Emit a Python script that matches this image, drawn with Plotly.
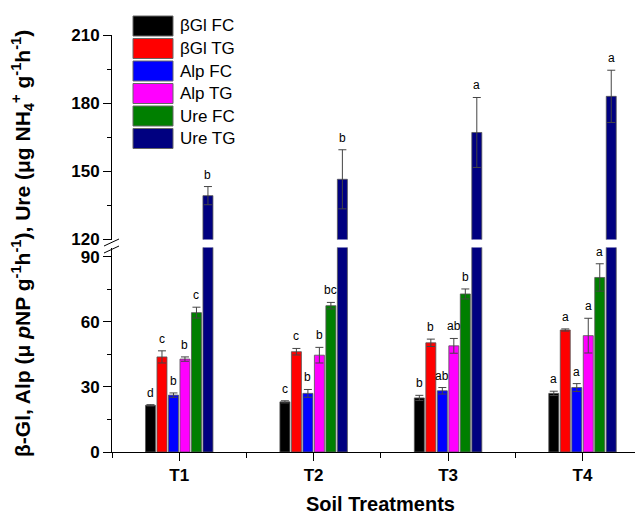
import plotly.graph_objects as go

groups = ["T1", "T2", "T3", "T4"]
series_names = ["βGl FC", "βGl TG", "Alp FC", "Alp TG", "Ure FC", "Ure TG"]
colors = ["#000000", "#FF0000", "#0000FF", "#FF00FF", "#007F00", "#000080"]

bgl_fc = [21.5, 23.1, 24.9, 27.0]
bgl_tg = [43.8, 46.2, 50.3, 56.2]
alp_fc = [26.2, 27.0, 28.2, 29.7]
alp_tg = [42.8, 44.6, 48.9, 53.6]
ure_fc = [64.2, 67.4, 72.8, 80.4]
ure_tg = [139.3, 146.5, 167.1, 183.0]

bgl_fc_err = [0.3, 0.5, 1.2, 1.0]
bgl_tg_err = [2.8, 1.5, 1.7, 0.5]
alp_fc_err = [1.0, 1.8, 1.5, 1.8]
alp_tg_err = [1.0, 3.6, 3.4, 8.0]
ure_fc_err = [2.5, 1.5, 2.3, 6.3]
ure_tg_err = [4.0, 13.0, 15.4, 11.5]

bgl_fc_let = ["d", "c", "b", "a"]
bgl_tg_let = ["c", "c", "b", "a"]
alp_fc_let = ["b", "b", "ab", "a"]
alp_tg_let = ["b", "b", "ab", "a"]
ure_fc_let = ["c", "bc", "b", "a"]
ure_tg_let = ["b", "b", "a", "a"]

values = [bgl_fc, bgl_tg, alp_fc, alp_tg, ure_fc, ure_tg]
errors = [bgl_fc_err, bgl_tg_err, alp_fc_err, alp_tg_err, ure_fc_err, ure_tg_err]
letters = [bgl_fc_let, bgl_tg_let, alp_fc_let, alp_tg_let, ure_fc_let, ure_tg_let]

xpos = list(range(len(groups)))
pitch = 0.0855
bw = 0.0743
start = -(5 * pitch + bw) / 2

FONT = "Liberation Sans, Arial, sans-serif"
OFF = 8  # page body margin
W, H = 643 - OFF, 517 - OFF
ML, MR, MT = 112 - OFF, 0, 35 - OFF
PH = 417
MB = H - MT - PH
PW = W - ML - MR

def px_x(p):
    return (p - OFF - ML) / PW

def px_y(p):
    return (MT + PH - (p - OFF)) / PH

fig = go.Figure()
annotations = []
for i, (name, vals, errs, lets, col) in enumerate(zip(series_names, values, errors, letters, colors)):
    upper = (i == 5)
    fig.add_trace(go.Bar(
        x=xpos, y=vals, name=name, width=bw, offset=start + i * pitch,
        marker=dict(color=col, line=dict(color="#555555", width=0.8)),
        error_y=None if upper else dict(type="data", array=errs, color="#444444", thickness=1, width=4),
        xaxis="x", yaxis="y", showlegend=False,
    ))
    if upper:
        fig.add_trace(go.Bar(
            x=xpos, y=vals, name=name, width=bw, offset=start + i * pitch,
            marker=dict(color=col, line=dict(color="#555555", width=0.8)),
            error_y=dict(type="data", array=errs, color="#444444", thickness=1, width=4),
            xaxis="x2", yaxis="y2", showlegend=False,
        ))
    for k in range(len(groups)):
        annotations.append(dict(
            x=xpos[k] + start + i * pitch + bw / 2, y=vals[k] + errs[k],
            xref="x2" if upper else "x", yref="y2" if upper else "y",
            text=lets[k], showarrow=False, yanchor="middle", yshift=12,
            font=dict(family=FONT, size=12, color="#000000"),
        ))

# legend drawn as boxes + labels
shapes = []
for i, (name, col) in enumerate(zip(series_names, colors)):
    top = 16 + i * 22.5
    shapes.append(dict(type="rect", xref="paper", yref="paper",
                       x0=px_x(133), x1=px_x(173), y0=px_y(top + 20), y1=px_y(top),
                       fillcolor=col, line=dict(color="#666666", width=1)))
    annotations.append(dict(x=px_x(178), y=px_y(top + 10), xref="paper", yref="paper",
                            text=name, showarrow=False, xanchor="left", yanchor="middle",
                            font=dict(family=FONT, size=17, color="#000000")))

# axis break marks
for yb in (243.0, 250.0):
    shapes.append(dict(type="line", xref="paper", yref="paper",
                       x0=px_x(104), x1=px_x(119), y0=px_y(yb + 3), y1=px_y(yb - 4),
                       line=dict(color="#000000", width=1)))

# y-axis title
annotations.append(dict(
    x=px_x(22), y=px_y(244), xref="paper", yref="paper", textangle=-90,
    text="<b>β-Gl, Alp (μ <i>p</i>NP g<sup>-1</sup>h<sup>-1</sup>), Ure (μg NH<sub>4</sub><sup>+</sup> g<sup>-1</sup>h<sup>-1</sup>)</b>",
    showarrow=False, xanchor="center", yanchor="middle",
    font=dict(family=FONT, size=21, color="#000000"),
))

# x-axis title
annotations.append(dict(
    x=px_x(380), y=px_y(504), xref="paper", yref="paper",
    text="<b>Soil Treatments</b>", showarrow=False, xanchor="center", yanchor="middle",
    font=dict(family=FONT, size=20, color="#000000"),
))

low_top = (452 - 247.5) / PH
up_bot = (452 - 239.5) / PH

tickfont = dict(family=FONT, size=17, color="#000000", weight="bold")

fig.update_layout(
    width=W, height=H, margin=dict(l=ML, r=MR, t=MT, b=MB, autoexpand=False),
    plot_bgcolor="white", paper_bgcolor="white",
    barmode="overlay", showlegend=False,
    shapes=shapes, annotations=annotations,
    xaxis=dict(
        range=[-0.5, 3.45], tickvals=xpos, ticktext=groups, anchor="y", automargin=False,
        showline=True, linecolor="#000000", linewidth=1, ticks="outside", ticklen=8,
        tickcolor="#000000", tickfont=tickfont, showgrid=False, zeroline=False,
        minor=dict(tick0=-0.5, dtick=1, ticks="outside", ticklen=5, tickcolor="#000000", showgrid=False),
    ),
    xaxis2=dict(range=[-0.5, 3.45], anchor="y2", visible=False, matches="x"),
    yaxis=dict(
        domain=[0, low_top], range=[0, 94.2], tickvals=[0, 30, 60, 90], automargin=False,
        showline=True, linecolor="#000000", linewidth=1, ticks="outside", ticklen=8,
        tickcolor="#000000", tickfont=tickfont, showgrid=False, zeroline=False,
        minor=dict(tick0=0, dtick=15, ticks="outside", ticklen=4, tickcolor="#000000", showgrid=False),
    ),
    yaxis2=dict(
        domain=[up_bot, 1], range=[120, 210], tickvals=[120, 150, 180, 210], anchor="x2", automargin=False,
        showline=True, linecolor="#000000", linewidth=1, ticks="outside", ticklen=8,
        tickcolor="#000000", tickfont=tickfont, showgrid=False, zeroline=False,
        minor=dict(tick0=120, dtick=15, ticks="outside", ticklen=4, tickcolor="#000000", showgrid=False),
    ),
)

fig.write_html("out.html")
